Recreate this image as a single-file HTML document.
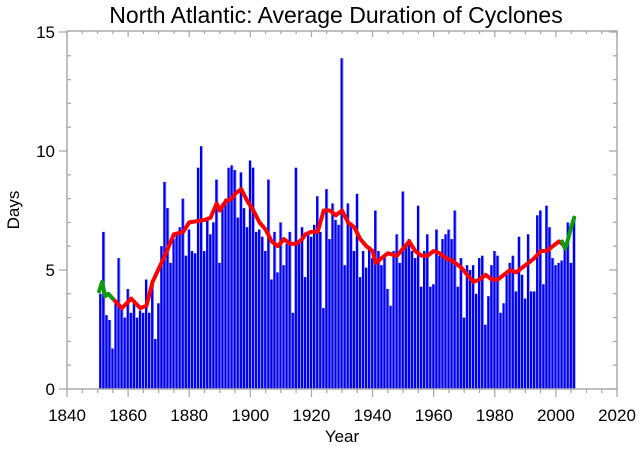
<!DOCTYPE html>
<html><head><meta charset="utf-8"><style>
html,body{margin:0;padding:0;background:#fff;}
svg{display:block;font-family:"Liberation Sans",sans-serif;}
</style></head><body>
<svg id="s" width="644" height="450" xmlns="http://www.w3.org/2000/svg"></svg>
<script>
const s=document.getElementById('s');
const X=y=>67+(y-1840)*550/180, Y=v=>389-v*23.8;
let h='';
h+='<text x="336" y="23" font-size="23" text-anchor="middle">North Atlantic: Average Duration of Cyclones</text>';
const vals=[4.0,6.6,3.1,2.9,1.7,3.7,5.5,3.5,3.0,4.2,3.2,3.6,3.0,3.3,3.2,4.6,3.2,4.5,2.1,3.6,6.0,8.7,7.6,5.3,6.3,6.6,6.8,8.0,5.6,6.7,5.8,5.7,9.3,10.2,5.8,7.1,6.5,7.0,8.8,5.3,7.8,8.0,9.3,9.4,9.2,7.2,9.1,7.6,6.8,9.6,9.3,6.6,6.7,6.4,5.8,8.8,4.6,6.6,4.9,7.0,5.2,6.1,6.6,3.2,9.3,6.2,6.8,4.7,6.5,6.4,6.9,8.1,6.6,3.4,8.4,6.3,7.8,7.1,6.9,13.9,5.2,7.8,7.0,5.8,8.2,4.7,5.8,5.1,6.0,5.5,7.5,5.8,5.2,5.6,4.2,3.5,5.8,6.5,5.3,8.3,6.0,6.3,5.8,5.5,7.7,4.3,5.8,6.5,4.3,4.4,6.7,5.6,6.3,6.5,6.7,6.3,7.5,4.3,5.5,3.0,5.2,5.0,5.2,4.0,5.5,5.6,2.7,3.9,5.2,5.8,5.6,3.2,3.6,4.8,5.3,5.6,4.1,6.4,4.8,3.8,6.5,4.1,4.1,7.3,7.5,4.4,7.7,6.8,5.5,5.2,5.3,5.4,6.0,7.0,5.3,7.2];
vals.forEach((v,i)=>{const x=X(1851+i)-1.5;
h+=`<rect x="${x.toFixed(2)}" y="${Y(v).toFixed(1)}" width="2.3" height="${(v*23.8).toFixed(1)}" fill="#0000f0"/>`;
h+=`<rect x="${(x+2.3).toFixed(2)}" y="${Y(v).toFixed(1)}" width="0.7" height="${(v*23.8).toFixed(1)}" fill="#9a9aff"/>`;});
const g='#aaa';
h+=`<rect x="67" y="31" width="550" height="358" fill="none" stroke="${g}" stroke-width="1.5"/>`;
for(let yr=1840;yr<=2020;yr+=5){const x=X(yr),maj=yr%20==0;
h+=`<line x1="${x}" y1="389" x2="${x}" y2="${maj?397:393}" stroke="${g}" stroke-width="1.3"/>`;
h+=`<line x1="${x}" y1="31" x2="${x}" y2="${maj?37:34}" stroke="${g}" stroke-width="1.3"/>`;
if(maj)h+=`<text x="${x}" y="421" font-size="17" text-anchor="middle">${yr}</text>`;}
for(let v=0;v<=15;v++){const y=Y(v),maj=v%5==0;
h+=`<line x1="${maj?59:67}" y1="${y}" x2="${maj?67:71}" y2="${y}" stroke="${g}" stroke-width="1.3"/>`;
h+=`<line x1="${maj?609:613}" y1="${y}" x2="617" y2="${y}" stroke="${g}" stroke-width="1.3"/>`;
if(maj)h+=`<text x="55" y="${y+6}" font-size="17" text-anchor="end">${v}</text>`;}
h+='<text x="342" y="442" font-size="17" text-anchor="middle">Year</text>';
h+='<text transform="translate(19,210) rotate(-90)" font-size="17" text-anchor="middle">Days</text>';
const red=[[1855,3.8],[1858,3.4],[1861,3.8],[1864,3.4],[1866,3.5],[1868,4.5],[1872,5.6],[1875,6.5],[1878,6.6],[1880,7.0],[1885,7.1],[1887,7.2],[1889,7.8],[1890,7.5],[1892,7.9],[1894,8.0],[1895,8.2],[1897,8.4],[1899,7.9],[1901,7.5],[1903,7.0],[1905,6.7],[1907,6.2],[1909,6.0],[1911,6.3],[1913,6.1],[1915,6.1],[1917,6.3],[1918,6.5],[1920,6.6],[1922,6.6],[1924,7.5],[1926,7.5],[1928,7.3],[1930,7.5],[1932,7.0],[1934,6.8],[1936,6.3],[1938,6.0],[1940,5.8],[1941,5.3],[1943,5.5],[1945,5.7],[1948,5.6],[1950,5.9],[1952,6.2],[1954,5.8],[1956,5.6],[1958,5.6],[1960,5.8],[1962,5.7],[1964,5.5],[1966,5.4],[1969,5.1],[1971,4.8],[1973,4.5],[1975,4.6],[1977,4.8],[1979,4.6],[1981,4.6],[1983,4.8],[1985,5.0],[1987,4.9],[1989,5.1],[1991,5.3],[1993,5.5],[1995,5.8],[1997,5.8],[1999,6.0],[2001,6.2],[2002,6.1]];
const gs=[[1850.5,4.1],[1851.5,4.5],[1852.5,3.9],[1853.5,4.0],[1855,3.8]];
const ge=[[2002,6.2],[2003,5.9],[2004,6.3],[2005,6.8],[2006,7.2]];
const pl=(a,c)=>`<polyline points="${a.map(p=>X(p[0]).toFixed(1)+','+Y(p[1]).toFixed(1)).join(' ')}" fill="none" stroke="${c}" stroke-width="4" stroke-linejoin="round" stroke-linecap="round"/>`;
h+=pl(red,'#ff0000')+pl(gs,'#109a10')+pl(ge,'#109a10');
s.innerHTML=h;
</script>
</body></html>
